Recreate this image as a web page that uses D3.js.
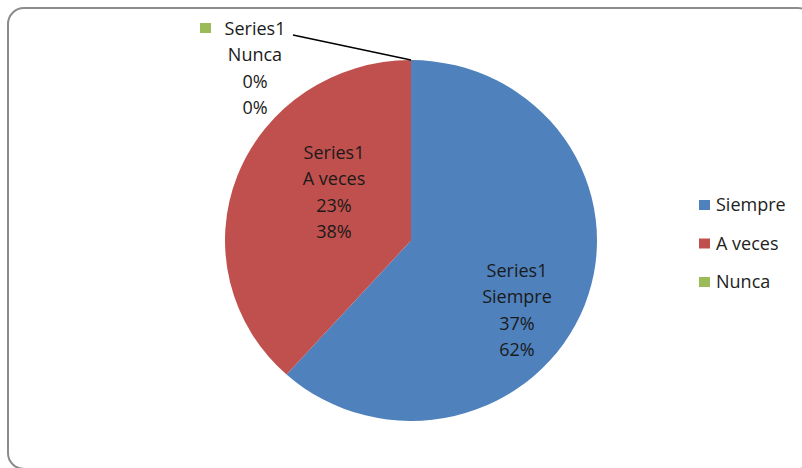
<!DOCTYPE html>
<html><head><meta charset="utf-8">
<script src="https://cdn.jsdelivr.net/npm/d3@7"></script>
<style>html,body{margin:0;padding:0;background:#fff;}svg{display:block;}</style>
</head><body>
<svg id="c" width="802" height="468"></svg>
<script>
const categories = ["Siempre", "A veces", "Nunca"];
const values = [37, 23, 0];
const percents = ["62%", "38%", "0%"];
const seriesName = "Series1";
const colors = ["#4F81BD", "#C0504D", "#9BBB59"];

const svg = d3.select("#c");
const font = "'Open Sans', sans-serif";
const fs = 18;

svg.append("rect").attr("x", 8).attr("y", 8).attr("width", 806).attr("height", 461)
  .attr("rx", 16).attr("fill", "#fff").attr("stroke", "#8c8c8c").attr("stroke-width", 2);

const cx = 411, cy = 240.5, r = 186, sy = 0.97;
const pie = d3.pie().sort(null).value(d => d)(values);
const arc = d3.arc().innerRadius(0).outerRadius(r);
const g = svg.append("g").attr("transform", `translate(${cx},${cy}) scale(1,${sy})`);
g.selectAll("path").data(pie).join("path")
  .attr("d", arc).attr("fill", (d, i) => colors[i]);

function label(x, y, lines) {
  const t = svg.append("text").attr("x", x).attr("y", y).attr("text-anchor", "middle")
    .attr("font-family", font).attr("font-size", fs).attr("fill", "#1a1a1a");
  lines.forEach((l, k) => t.append("tspan").attr("x", x).attr("dy", k === 0 ? 0 : 26.3).text(l));
  return t;
}
const labelPos = [[517, 277], [334, 159], [255, 35]];
pie.forEach((d, i) => {
  label(labelPos[i][0], labelPos[i][1], [seriesName, categories[i], values[i] + "%", percents[i]]);
});
// legend key inside the Nunca label
svg.append("rect").attr("x", 200).attr("y", 23).attr("width", 11).attr("height", 10).attr("fill", colors[2]);
// leader line for the zero slice
const a0 = pie[2].startAngle;
svg.append("polyline")
  .attr("points", `293,35 ${cx + r * Math.sin(a0)},${cy - r * sy * Math.cos(a0)}`)
  .attr("fill", "none").attr("stroke", "#000").attr("stroke-width", 1.5);

// legend
const lg = svg.append("g");
categories.forEach((c, i) => {
  const y = 205 + i * 38.5;
  lg.append("rect").attr("x", 699).attr("y", y - 5).attr("width", 11).attr("height", 10).attr("fill", colors[i]);
  lg.append("text").attr("x", 716).attr("y", y + 6).attr("font-family", font).attr("font-size", fs)
    .attr("fill", "#222").text(c);
});
</script>
</body></html>
